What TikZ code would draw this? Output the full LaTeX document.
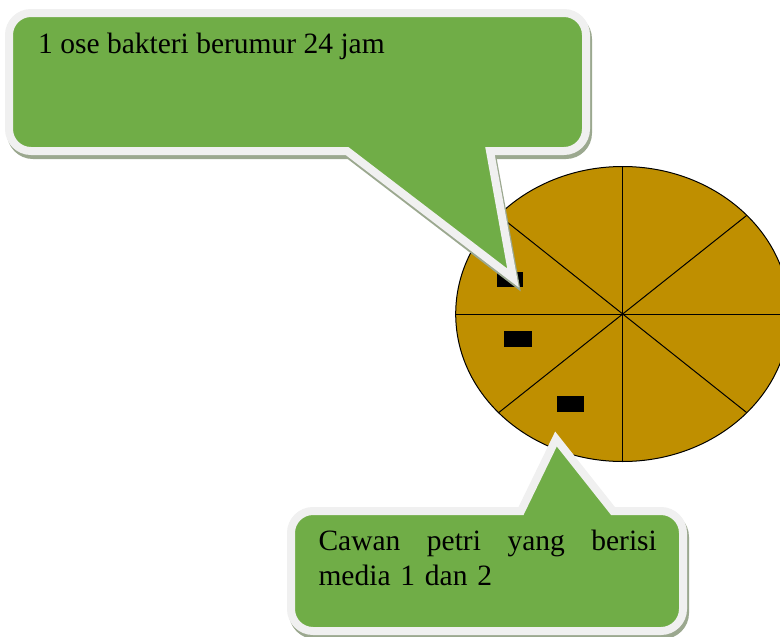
\documentclass[tikz,border=0pt]{standalone}
\usepackage{fontspec}
\setmainfont{Liberation Serif}
\usetikzlibrary{calc}

\definecolor{calloutgreen}{RGB}{112,173,71}
\definecolor{calloutrim}{RGB}{240,240,240}
\definecolor{dishgold}{RGB}{191,143,0}
\definecolor{calloutshade}{RGB}{155,168,143}

% outlines of the two speech balloons (screen coordinates, y grows downward)
\newcommand\upperballoon{%
  (347,151) -- (31,151) arc[start angle=90,end angle=180,radius=22]
  -- (9,35) arc[start angle=180,end angle=270,radius=22]
  -- (564,13) arc[start angle=270,end angle=360,radius=22]
  -- (586,129) arc[start angle=0,end angle=90,radius=22]
  -- (490,151) -- (513,278) -- cycle}
\newcommand\lowerballoon{%
  (521,511) -- (556,439) -- (613,511)
  -- (661,511) arc[start angle=270,end angle=360,radius=22]
  -- (683,609) arc[start angle=0,end angle=90,radius=22]
  -- (313,631) arc[start angle=90,end angle=180,radius=22]
  -- (291,533) arc[start angle=180,end angle=270,radius=22]
  -- cycle}

\tikzset{
  balloon/.style={fill=calloutgreen, draw=calloutrim, line width=8pt, line join=miter},
  balloonshade/.style={fill=calloutshade, draw=calloutshade, line width=8pt,
    line join=miter, shift={(2,4)}},
  spoke/.style={draw=black, line width=1pt},
  colony/.style={fill=black},
  label/.style={inner sep=0pt, font=\fontsize{29.5}{35}\selectfont, text=black}
}

\begin{document}
\begin{tikzpicture}[x=1pt, y=-1pt]
  \useasboundingbox (0,0) rectangle (780,637);
  \clip (0,0) rectangle (780,637);

  % petri dish divided into eight sectors
  \coordinate (c) at (622.7,314);
  \draw[fill=dishgold, line width=1pt] (c) ellipse [x radius=167, y radius=147.5];
  \draw[spoke] ($(c)+(270:167 and 147.5)$) -- ($(c)+(90:167 and 147.5)$);
  \draw[spoke] ($(c)+(180:167 and 147.5)$) -- ($(c)+(0:167 and 147.5)$);
  \draw[spoke] ($(c)+(222:167 and 147.5)$) -- ($(c)+(42:167 and 147.5)$);
  \draw[spoke] ($(c)+(318:167 and 147.5)$) -- ($(c)+(138:167 and 147.5)$);

  % inoculated spots
  \fill[colony] (497,272) rectangle (523,287);
  \fill[colony] (504,331) rectangle (532,347);
  \fill[colony] (557,396) rectangle (584,412);

  % upper balloon
  \path[balloonshade] \upperballoon;
  \path[balloon] \upperballoon;
  \node[label, anchor=base west] (ose) at (38,53) {1 ose bakteri berumur 24 jam};

  % lower balloon
  \path[balloonshade] \lowerballoon;
  \path[balloon] \lowerballoon;
  \node[label, anchor=base west, text width=338.4pt, align=left] (cawan) at (318.3,550)
    {\makebox[338.4pt][l]{Cawan\hfill petri\hfill yang\hfill berisi}\\\mbox{media 1 dan 2}};
\end{tikzpicture}
\end{document}
